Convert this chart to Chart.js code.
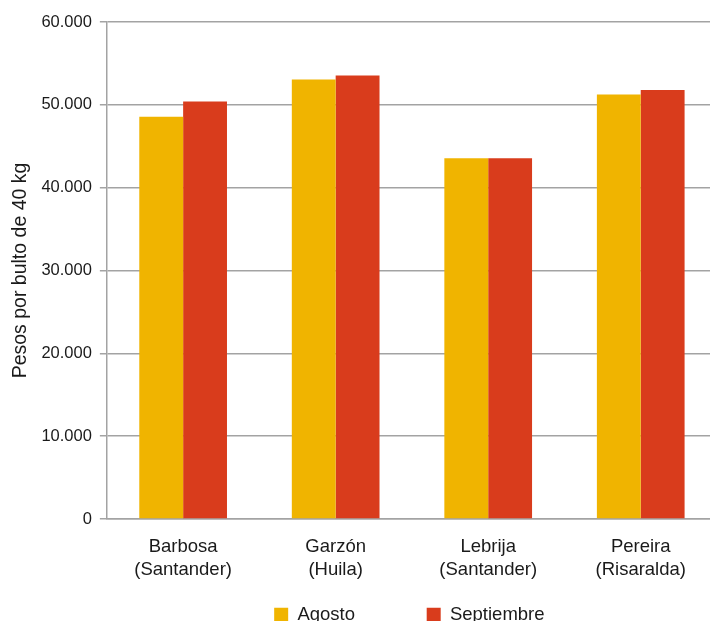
<!DOCTYPE html>
<html>
<head>
<meta charset="utf-8">
<script src="https://cdn.jsdelivr.net/npm/chart.js@4"></script>
<style>
  body { margin: 0; overflow: hidden; background: #fff; }
</style>
</head>
<body>
<canvas id="myBars" width="717" height="634"></canvas>
<script>
var categorias = [['Barbosa', '(Santander)'], ['Garzón', '(Huila)'], ['Lebrija', '(Santander)'], ['Pereira', '(Risaralda)']];
var agosto = [48550, 53060, 43550, 51250];
var septiembre = [50400, 53540, 43550, 51780];
var ticksY = [0, 10000, 20000, 30000, 40000, 50000, 60000];

var gris = '#a3a3a3';

function miles(v) {
    return String(v).replace(/\B(?=(\d{3})+(?!\d))/g, '.');
}

var ctxbars = document.getElementById('myBars').getContext('2d');
var myBarChart = new Chart(ctxbars, {
    type: 'bar',
    data: {
        labels: categorias,
        datasets: [{
            label: 'Agosto',
            data: agosto,
            backgroundColor: '#f0b400',
            categoryPercentage: 0.575,
            barPercentage: 1.0
        }, {
            label: 'Septiembre',
            data: septiembre,
            backgroundColor: '#d93c1c',
            categoryPercentage: 0.575,
            barPercentage: 1.0
        }]
    },
    options: {
        responsive: false,
        animation: false,
        layout: { padding: { left: 9, top: 22, right: 0, bottom: 0 } },
        scales: {
            x: {
                grid: { display: false },
                border: { display: true, color: gris, width: 1.5 },
                ticks: {
                    color: '#1a1a1a',
                    padding: 8,
                    maxRotation: 0,
                    font: { family: 'Liberation Sans', size: 18.5, lineHeight: 1.25 }
                },
                afterFit: function(axis) { axis.height = 76.5; }
            },
            y: {
                min: 0,
                max: 60000,
                afterBuildTicks: function(axis) {
                    axis.ticks = ticksY.map(function(v) { return { value: v }; });
                },
                grid: { color: gris, lineWidth: 1.5, tickLength: 7 },
                border: { display: true, color: gris, width: 1.5 },
                ticks: {
                    color: '#1a1a1a',
                    padding: 8,
                    font: { family: 'Liberation Sans', size: 16.5 },
                    callback: function(v) { return miles(v); }
                },
                title: {
                    display: true,
                    text: 'Pesos por bulto de 40 kg',
                    color: '#1a1a1a',
                    font: { family: 'Liberation Sans', size: 19.5 },
                    padding: { top: 0, bottom: 1 }
                }
            }
        },
        plugins: {
            tooltip: { enabled: false },
            legend: {
                position: 'bottom',
                fullSize: false,
                labels: {
                    color: '#1a1a1a',
                    boxWidth: 14,
                    boxHeight: 14,
                    padding: 10,
                    font: { family: 'Liberation Sans', size: 18.5 },
                    generateLabels: function(chart) {
                        var items = Chart.defaults.plugins.legend.labels.generateLabels(chart);
                        // spacing between the two legend entries
                        items[0].text = items[0].text + '            ';
                        items[1].text = items[1].text + ' ';
                        return items;
                    }
                }
            }
        }
    }
});
</script>
</body>
</html>
